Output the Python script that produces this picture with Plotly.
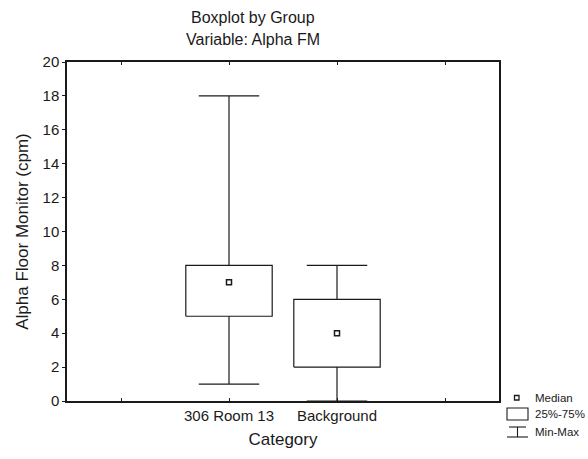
import plotly.graph_objects as go

# Summary statistics per group (cpm)
categories = ["306 Room 13", "Background"]
minimum = [1, 0]
q1 = [5, 2]
median = [7, 4]
q3 = [8, 6]
maximum = [18, 8]

y_ticks = list(range(0, 21, 2))

INK = "#1a1a1a"
FONT = "Liberation Sans, Arial, sans-serif"
BOX_HALF = 0.40
CAP_HALF = 0.28

W, H = 588, 459
ML, MR, MT, MB = 67, 89, 62, 58
PW, PH = W - ML - MR, H - MT - MB

pos = list(range(len(categories)))


def px(x):
    """Pixel column -> plot-area (paper) fraction."""
    return (x - ML) / PW


def py(y):
    """Pixel row -> plot-area (paper) fraction."""
    return (H - MB - y) / PH


# Boxes (25%-75%)
bx, by = [], []
for c, lo, hi in zip(pos, q1, q3):
    bx += [c - BOX_HALF, c + BOX_HALF, c + BOX_HALF, c - BOX_HALF, c - BOX_HALF, None]
    by += [lo, lo, hi, hi, lo, None]

# Whiskers with caps (Min-Max)
wx, wy = [], []
for c, lo, a, b, hi in zip(pos, minimum, q1, q3, maximum):
    wx += [c, c, None, c, c, None]
    wy += [b, hi, None, a, lo, None]
    wx += [c - CAP_HALF, c + CAP_HALF, None, c - CAP_HALF, c + CAP_HALF, None]
    wy += [hi, hi, None, lo, lo, None]

fig = go.Figure()
fig.add_trace(go.Scatter(x=wx, y=wy, mode="lines", line=dict(color=INK, width=1.2),
                         hoverinfo="skip", showlegend=False, cliponaxis=False))
fig.add_trace(go.Scatter(x=bx, y=by, mode="lines", line=dict(color=INK, width=1.2),
                         hoverinfo="skip", showlegend=False))
fig.add_trace(go.Scatter(x=pos, y=median, mode="markers",
                         marker=dict(symbol="square-open", size=5, color=INK,
                                     line=dict(width=1.5, color=INK)),
                         showlegend=False))

# Key in the lower right corner
lx0, lx1 = px(507), px(528)
lxc = (lx0 + lx1) / 2
shapes = [
    dict(type="rect", xref="paper", yref="paper", x0=lx0, x1=lx1, y0=py(420), y1=py(408),
         line=dict(color=INK, width=1.1)),
    dict(type="line", xref="paper", yref="paper", x0=px(509), x1=px(526), y0=py(427), y1=py(427),
         line=dict(color=INK, width=1.1)),
    dict(type="line", xref="paper", yref="paper", x0=lxc, x1=lxc, y0=py(427), y1=py(437),
         line=dict(color=INK, width=1.1)),
    dict(type="line", xref="paper", yref="paper", x0=lx0, x1=lx1, y0=py(437), y1=py(437),
         line=dict(color=INK, width=1.1)),
    dict(type="rect", xref="paper", yref="paper", x0=px(514.5), x1=px(519),
         y0=py(400), y1=py(395.5), line=dict(color=INK, width=1.3)),
]

annotations = []
for txt, yy in [("Median", 398), ("25%-75%", 414), ("Min-Max", 432)]:
    annotations.append(dict(text=txt, x=px(533), y=py(yy), xref="paper", yref="paper",
                            xanchor="left", yanchor="middle", showarrow=False,
                            font=dict(family=FONT, size=11.5, color=INK)))

# Two-line heading
for txt, yy in [("Boxplot by Group", 17), ("Variable: Alpha FM", 40)]:
    annotations.append(dict(text=txt, x=px(253), y=py(yy), xref="paper", yref="paper",
                            xanchor="center", yanchor="middle", showarrow=False,
                            font=dict(family=FONT, size=16, color=INK)))

fig.update_layout(
    width=W, height=H,
    margin=dict(l=ML, r=MR, t=MT, b=MB),
    paper_bgcolor="white", plot_bgcolor="white",
    font=dict(family=FONT, color=INK),
    shapes=shapes,
    annotations=annotations,
    showlegend=False,
)

fig.update_xaxes(
    range=[-1.5, 2.5],
    tickvals=[-1] + pos + [2], ticktext=[""] + categories + [""],
    ticks="inside", ticklen=3, tickcolor=INK,
    showline=True, linecolor=INK, linewidth=1.5, mirror="ticks",
    showgrid=False, zeroline=False,
    tickfont=dict(family=FONT, size=15, color=INK),
    title=dict(text="Category", font=dict(family=FONT, size=17, color=INK), standoff=10),
)
fig.update_yaxes(
    range=[0, 20], tickvals=y_ticks,
    ticks="outside", ticklen=3, tickcolor=INK,
    showline=True, linecolor=INK, linewidth=1.5, mirror=True,
    showgrid=False, zeroline=False,
    tickfont=dict(family=FONT, size=15, color=INK),
    title=dict(text="Alpha Floor Monitor (cpm)", font=dict(family=FONT, size=17, color=INK), standoff=10),
)

fig.write_html("out.html")
